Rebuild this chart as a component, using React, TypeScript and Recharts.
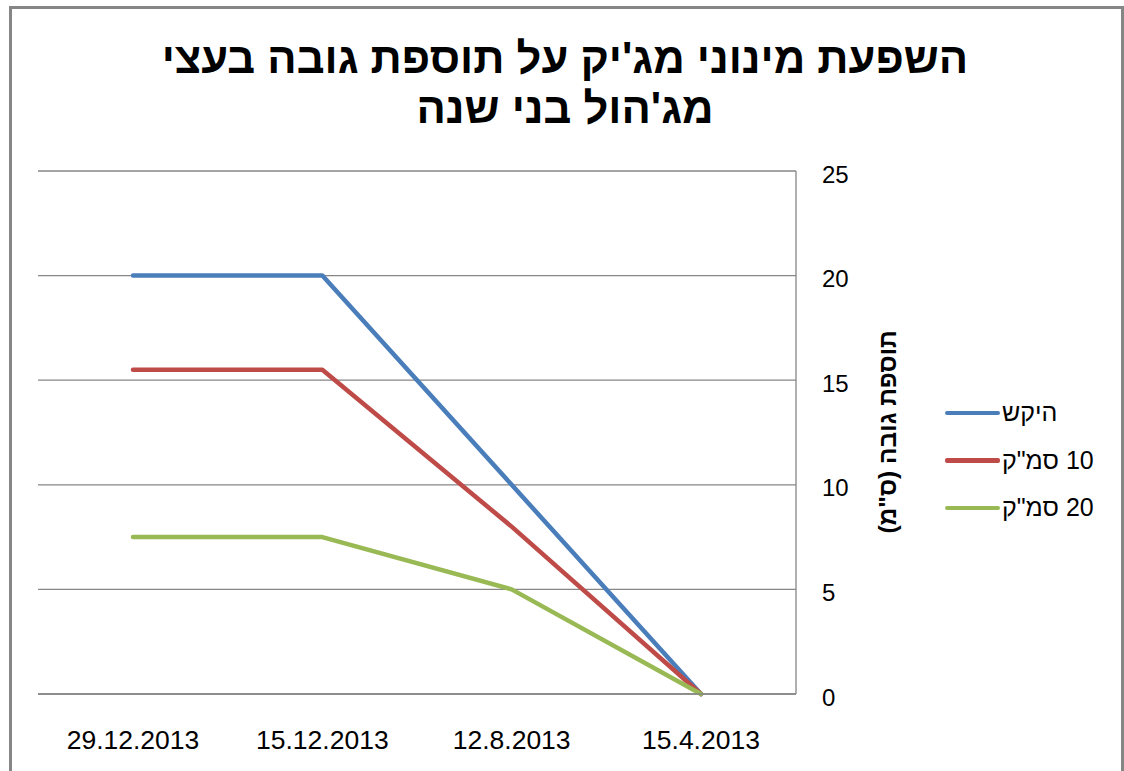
import React from 'react';
import { LineChart, Line, XAxis, YAxis, CartesianGrid } from 'recharts';

const categories = ['15.4.2013', '12.8.2013', '15.12.2013', '29.12.2013'];
const seriesNames = ['היקש', '10 סמ"ק', '20 סמ"ק'];
const hekesh = [0, 10, 20, 20];
const tenCc = [0, 8, 15.5, 15.5];
const twentyCc = [0, 5, 7.5, 7.5];
const yTicks = [0, 5, 10, 15, 20, 25];
const titleLines = ["השפעת מינוני מג'יק על תוספת גובה בעצי", "מג'הול בני שנה"];
const yAxisTitle = 'תוספת גובה (ס"מ)';
const colors = ['#4A7EBB', '#BE4B48', '#98B954'];

const data = categories.map((c, i) => ({
  date: c,
  s0: hekesh[i],
  s1: tenCc[i],
  s2: twentyCc[i],
}));

const FONT = '"Liberation Sans", Arial, sans-serif';
const GRID = '#868686';

const XTick = (props: any) => {
  const { x, y, payload } = props;
  return (
    <text x={x} y={y + 46} textAnchor="middle" dominantBaseline="central" fontSize={26.5} fontFamily={FONT} fill="#000">
      {payload.value}
    </text>
  );
};

const YTick = (props: any) => {
  const { x, y, payload } = props;
  return (
    <text x={x + 26} y={y + 3} textAnchor="start" dominantBaseline="central" fontSize={24} fontFamily={FONT} fill="#000">
      {payload.value}
    </text>
  );
};

const LegendBox = () => (
  <div style={{ position: 'absolute', left: 945, top: 389, width: 175, fontFamily: FONT, fontSize: 25, color: '#000' }}>
    {seriesNames.map((n, i) => (
      <div key={n} style={{ display: 'flex', alignItems: 'center', height: 47.5 }}>
        <div style={{ width: 55, height: 4.5, background: colors[i], borderRadius: 2 }} />
        <span dir="rtl" style={{ marginLeft: 2, whiteSpace: 'nowrap' }}>{n}</span>
      </div>
    ))}
  </div>
);

export default function App() {
  return (
    <div style={{ position: 'absolute', left: 0, top: 0, width: 1124, height: 771, background: '#fff', overflow: 'hidden' }}>
      <div style={{ position: 'absolute', left: 9, top: 6, width: 1200, height: 900, border: `3px solid ${GRID}`, boxSizing: 'border-box' }} />
      <div style={{ position: 'absolute', left: 1121, top: 6, width: 3, height: 771, background: GRID }} />
      <div
        dir="rtl"
        style={{
          position: 'absolute',
          left: 3,
          top: 33,
          width: 1124,
          textAlign: 'center',
          fontFamily: FONT,
          fontWeight: 'bold',
          fontSize: 43.5,
          lineHeight: '50px',
          color: '#000',
        }}
      >
        {titleLines.map((t) => (
          <div key={t}>{t}</div>
        ))}
      </div>
      <div
        dir="rtl"
        style={{
          position: 'absolute',
          left: 888 - 150,
          top: 432 - 15,
          width: 300,
          height: 30,
          lineHeight: '30px',
          textAlign: 'center',
          fontFamily: FONT,
          fontWeight: 'bold',
          fontSize: 24.5,
          color: '#000',
          transform: 'rotate(-90deg)',
          whiteSpace: 'nowrap',
        }}
      >
        {yAxisTitle}
      </div>
      <LegendBox />
      <div style={{ position: 'absolute', left: 0, top: 0 }}>
        <LineChart width={1124} height={771} data={data} margin={{ top: 171, right: 0, bottom: 0, left: 38 }}>
          <CartesianGrid vertical={false} stroke={GRID} strokeWidth={1.3} />
          <XAxis
            dataKey="date"
            reversed
            padding={{ left: 95, right: 95 }}
            tick={<XTick />}
            tickLine={false}
            tickSize={0}
            tickMargin={0}
            axisLine={{ stroke: GRID, strokeWidth: 1.3 }}
            interval={0}
            height={77}
          />
          <YAxis
            orientation="right"
            domain={[0, 25]}
            ticks={yTicks}
            tick={<YTick />}
            tickLine={false}
            tickSize={0}
            tickMargin={0}
            axisLine={{ stroke: GRID, strokeWidth: 1.3 }}
            width={328}
            interval={0}
          />
          {['s0', 's1', 's2'].map((k, i) => (
            <Line
              key={k}
              type="linear"
              dataKey={k}
              name={seriesNames[i]}
              stroke={colors[i]}
              strokeWidth={4.5}
              strokeLinecap="round"
              strokeLinejoin="round"
              dot={false}
              activeDot={false}
              isAnimationActive={false}
            />
          ))}
        </LineChart>
      </div>
    </div>
  );
}
